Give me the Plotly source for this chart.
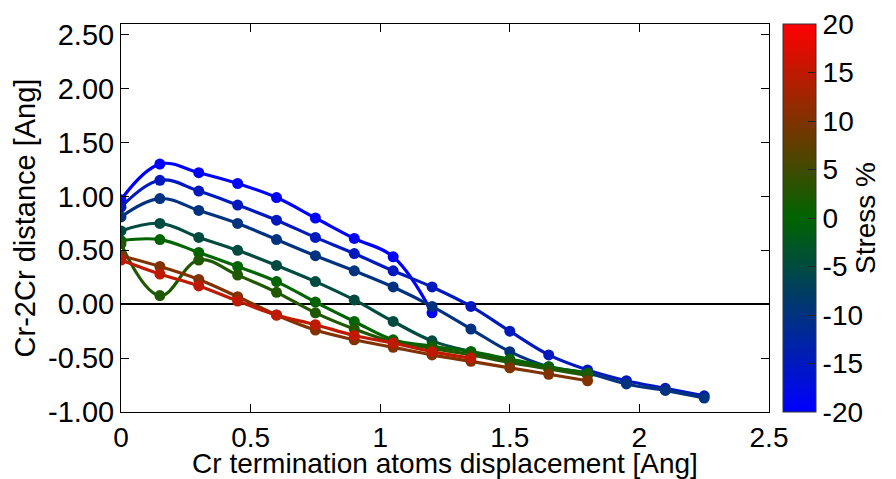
import plotly.graph_objects as go
from plotly.colors import sample_colorscale

# ---- data ----
stress = [-20, -15, -10, -5, 0, 2.5, 10, 15]
x_step = 0.15
disp_m20 = [0.97, 1.30, 1.22, 1.12, 0.99, 0.80, 0.61, 0.44, -0.08]
disp_m15 = [0.90, 1.15, 1.05, 0.92, 0.78, 0.62, 0.47, 0.31, 0.16, -0.02, -0.25, -0.47, -0.61, -0.71, -0.78, -0.85]
disp_m10 = [0.81, 0.98, 0.87, 0.75, 0.60, 0.45, 0.31, 0.16, -0.02, -0.23, -0.44, -0.58, -0.64, -0.74, -0.80, -0.87]
disp_m5 = [0.68, 0.75, 0.62, 0.50, 0.36, 0.21, 0.04, -0.16, -0.34, -0.44, -0.52, -0.59, -0.65]
disp_0 = [0.59, 0.60, 0.48, 0.35, 0.21, 0.02, -0.16, -0.33, -0.39, -0.44, -0.51, -0.58, -0.64]
disp_p2 = [0.56, 0.08, 0.41, 0.27, 0.11, -0.08, -0.23, -0.35, -0.41, -0.47, -0.54, -0.60, -0.66]
disp_p10 = [0.45, 0.35, 0.23, 0.07, -0.10, -0.24, -0.33, -0.40, -0.47, -0.53, -0.59, -0.65, -0.71]
disp_p15 = [0.41, 0.28, 0.17, 0.03, -0.10, -0.19, -0.29, -0.36, -0.44, -0.50]
series = [disp_m20, disp_m15, disp_m10, disp_m5, disp_0, disp_p2, disp_p10, disp_p15]

y_ticks = [-1.0, -0.5, 0.0, 0.5, 1.0, 1.5, 2.0, 2.5]
y_ticklabels = ["-1.00", "-0.50", "0.00", "0.50", "1.00", "1.50", "2.00", "2.50"]
x_ticks = [0, 0.5, 1, 1.5, 2, 2.5]
x_ticklabels = ["0", "0.5", "1", "1.5", "2", "2.5"]
cbar_ticks = [-20, -15, -10, -5, 0, 5, 10, 15, 20]
cbar_ticklabels = ["-20", "-15", "-10", "-5", "0", "5", "10", "15", "20"]

cscale = [[0.0, "#0000ff"], [0.5, "#006400"], [1.0, "#ff0000"]]
smin, smax = -20, 20

FONT = "Liberation Sans"
fig = go.Figure()

for s, ys in zip(stress, series):
    xs = [round(i * x_step, 4) for i in range(len(ys))]
    col = sample_colorscale(cscale, [(s - smin) / (smax - smin)])[0]
    fig.add_trace(go.Scatter(
        x=xs, y=ys, mode="lines+markers",
        line=dict(color=col, width=3.2, shape="spline", smoothing=1.1),
        marker=dict(color=col, size=11),
        showlegend=False, name=f"{s}%"))

# colorbar carrier
fig.add_trace(go.Scatter(
    x=[None], y=[None], mode="markers", showlegend=False,
    marker=dict(color=[smin], cmin=smin, cmax=smax, colorscale=cscale, showscale=True,
                colorbar=dict(
                    x=(775 - 113) / 648, xanchor="left", xpad=0, ypad=0,
                    y=0, yanchor="bottom", len=1, lenmode="fraction",
                    thickness=33, outlinewidth=1, outlinecolor="#333",
                    tickvals=cbar_ticks, ticktext=cbar_ticklabels,
                    ticks="inside", ticklen=8, tickcolor="#222",
                    tickfont=dict(family=FONT, size=28, color="black"),
                    title=dict(text="Stress %", side="right",
                               font=dict(family=FONT, size=28, color="black")),
                ))))

fig.update_layout(
    width=888, height=471,
    margin=dict(l=113, r=127, t=16, b=67),
    paper_bgcolor="white", plot_bgcolor="white",
    font=dict(family=FONT, size=28, color="black"),
    xaxis=dict(range=[0, 2.5], tickvals=x_ticks, ticktext=x_ticklabels, automargin=False,
               showgrid=False, zeroline=False, showline=True, linecolor="black",
               linewidth=1, mirror="ticks", ticks="inside", ticklen=8, tickcolor="black",
               tickfont=dict(family=FONT, size=28),
               title=dict(text="Cr termination atoms displacement [Ang]", standoff=3,
                          font=dict(family=FONT, size=28))),
    yaxis=dict(range=[-1.0, 2.6], tickvals=y_ticks, ticktext=y_ticklabels, automargin=False,
               showgrid=False, zeroline=True, zerolinecolor="black", zerolinewidth=2,
               showline=True, linecolor="black", linewidth=1, mirror="ticks",
               ticks="inside", ticklen=8, tickcolor="black",
               tickfont=dict(family=FONT, size=29),
               title=dict(text="Cr-2Cr distance [Ang]", standoff=3,
                          font=dict(family=FONT, size=29))),
)

fig.write_html("out.html")
